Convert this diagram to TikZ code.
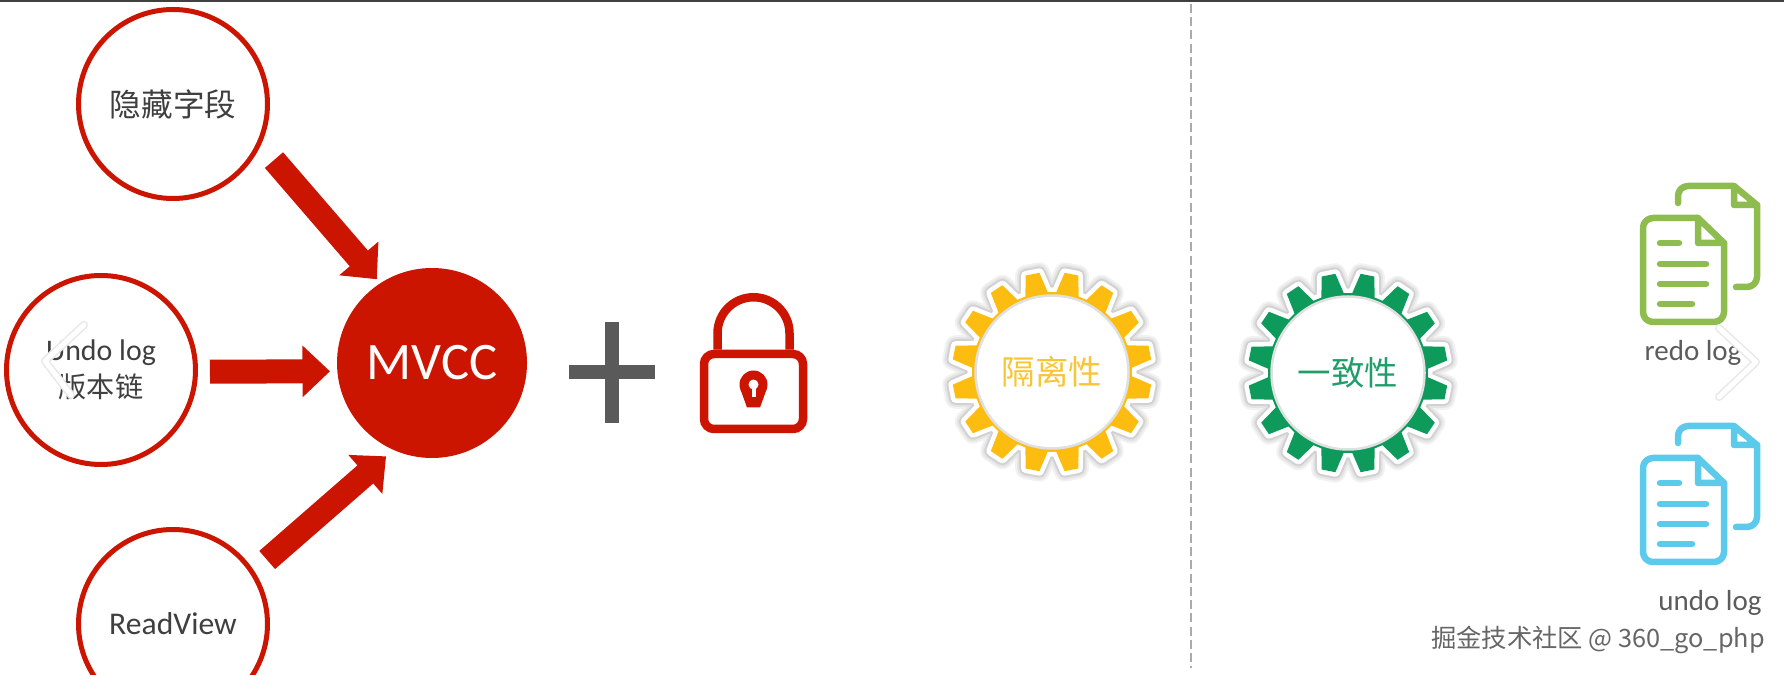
\documentclass[tikz,border=0pt]{standalone}
\usepackage{fontspec}
\setmainfont{Carlito}
\newfontfamily\cjk{Noto Sans CJK SC}
\usepackage{xcolor}
\usepackage{tikz}
\usetikzlibrary{arrows.meta, positioning, calc}
\definecolor{mvccred}{HTML}{CC1500}
\definecolor{plusgray}{HTML}{5A5A5A}
\definecolor{textgray}{HTML}{3F3F3F}
\definecolor{dashgray}{HTML}{ABABAB}
\definecolor{gearyellow}{HTML}{FDBD10}
\definecolor{geargreen}{HTML}{0E9A5B}
\definecolor{isotext}{HTML}{F8C535}
\definecolor{constext}{HTML}{1F9E69}
\definecolor{redogreen}{HTML}{8FBC4E}
\definecolor{undoblue}{HTML}{5CCBEB}
\tikzstyle{logcircle} = [circle, draw=mvccred, fill=white, line width=0.1cm, minimum size=3.78cm,
  inner sep=0pt, align=center, text=textgray, font=\fontsize{17}{21}\selectfont]
\tikzstyle{mvccnode} = [circle, fill=mvccred, minimum size=3.8cm, inner sep=0pt, text=white,
  font=\fontsize{30}{34}\selectfont]
\tikzstyle{bigarrow} = [draw=mvccred, line width=0.48cm, -{Triangle[width=1cm,length=0.55cm]}]
\tikzstyle{plusbar} = [draw=plusgray, line width=0.28cm]
\tikzstyle{lockline} = [draw=mvccred, line width=0.17cm]
\tikzstyle{gearcore} = [circle, fill=white, draw=black!12, line width=0.05cm, minimum size=3.06cm,
  inner sep=0pt, font=\cjk\fontsize{19}{22}\selectfont]
\tikzstyle{docline} = [line width=0.13cm, line cap=round, line join=round]
\tikzstyle{doclabel} = [text=textgray!85, font=\fontsize{16.5}{20}\selectfont]
\tikzstyle{chevron} = [draw=white, line width=0.1cm, line cap=round, line join=round]
\tikzstyle{chevronedge} = [draw=black!9, line width=0.16cm, line cap=round, line join=round]
\newcommand{\gearpath}{(3.05:1.6) \foreach \a in {11.25,33.75,...,348.75}
  {-- (\a-8.2:1.6) -- (\a-4:2) -- (\a+4:2) -- (\a+8.2:1.6)} -- cycle}
\newcommand{\gearwheel}[2]{
  \begin{scope}[shift={(#1)}]
    \foreach \w/\c in {0.42/black!5,0.34/black!10,0.26/black!18,0.18/white}
      \draw[draw=\c, line width=\w cm, line join=round] \gearpath;
    \fill[#2] \gearpath;
  \end{scope}}
\newcommand{\docicon}[2]{
  \begin{scope}[shift={(#1)}, draw=#2]
    \draw[docline, rounded corners=0.2cm] (0.7,0.3) -- (0.7,0.64) -- (1.82,0.64);
    \draw[docline] (1.82,0.64) -- (2.28,0.26) -- (1.82,0.26) -- cycle;
    \draw[docline, rounded corners=0.2cm] (2.28,0.26) -- (2.28,-1.38) -- (1.86,-1.38);
    \draw[docline, rounded corners=0.2cm] (1.1,0) -- (0,0) -- (0,-2.08) -- (1.62,-2.08) -- (1.62,-0.5);
    \draw[docline] (1.1,0) -- (1.1,-0.5) -- (1.62,-0.5) -- cycle;
    \draw[docline] (0.34,-0.5) -- (0.72,-0.5);
    \draw[docline] (0.34,-0.92) -- (1.26,-0.92);
    \draw[docline] (0.34,-1.32) -- (1.26,-1.32);
    \draw[docline] (0.34,-1.72) -- (0.98,-1.72);
  \end{scope}}

\begin{document}
\begin{tikzpicture}[on grid]
  \useasboundingbox (0,0) rectangle (35.68,13.48);
  \clip (0,0) rectangle (35.68,13.48);
  \fill[white] (0,0) rectangle (35.68,13.48);
  \draw[black!75, line width=0.05cm] (0,13.46) -- (35.68,13.46);

  % MVCC and its three parts
  \node (mvcc) [mvccnode] at (8.64,6.22) {MVCC};
  \node (hidden) [logcircle, above left=5.18cm and 5.18cm of mvcc] {\cjk\fontsize{18}{22}\selectfont 隐藏字段};
  \node (chain) [logcircle, below left=0.14cm and 6.62cm of mvcc] {Undo log\\{\cjk\fontsize{16}{20}\selectfont 版本链}};
  \node (view) [logcircle, below left=5.22cm and 5.18cm of mvcc, font=\fontsize{18}{22}\selectfont] {ReadView};

  \draw[bigarrow, shorten <=0.4cm, shorten >=0.1cm] (hidden.-25) -- (mvcc.123);
  \draw[bigarrow, shorten <=0.24cm, shorten >=0.14cm] (chain.-1) -- (mvcc.185);
  \draw[bigarrow, shorten <=0.34cm, shorten >=0.19cm] (view.33) -- (mvcc.246);

  % plus and lock
  \coordinate (plus) at (12.24,6.04);
  \draw[plusbar] ([xshift=-0.86cm]plus) -- ([xshift=0.86cm]plus);
  \draw[plusbar] ([yshift=-1.02cm]plus) -- ([yshift=1.0cm]plus);
  \node (lockbody) [lockline, rectangle, rounded corners=0.2cm, minimum width=1.98cm, minimum height=1.5cm,
    below right=0.57cm and 6.43cm of mvcc] {};
  \draw[lockline] ([xshift=-0.72cm]lockbody.north) -- ++(0,0.33) arc[start angle=180, end angle=0, radius=0.72cm] -- ++(0,-0.33);
  \coordinate (keyhole) at ($(lockbody.center)+(0,0.14)$);
  \fill[mvccred] (keyhole) circle (0.28cm);
  \fill[mvccred] ($(keyhole)+(-0.26,-0.1)$) -- ($(keyhole)+(-0.13,-0.46)$) -- ($(keyhole)+(0.13,-0.46)$) -- ($(keyhole)+(0.26,-0.1)$) -- cycle;
  \fill[white] (keyhole) circle (0.1cm);
  \fill[white] ($(keyhole)+(-0.04,0)$) rectangle ($(keyhole)+(0.04,-0.26)$);

  % the divider
  \coordinate (dashtop) at (23.82,13.4);
  \coordinate (dashend) at (23.82,0.12);
  \draw[dashgray, line width=0.05cm, dash pattern=on 0.18cm off 0.085cm] (dashtop) -- (dashend);

  % two gears
  \coordinate (isoc) at (21.04,6.04);
  \coordinate (consc) at (26.96,6.02);
  \gearwheel{isoc}{gearyellow}
  \gearwheel{consc}{geargreen}
  \node (iso) [gearcore, text=isotext] at (isoc) {\raisebox{0.05cm}{隔离性}};
  \node (cons) [gearcore, text=constext] at (consc) {一致性};

  % log files
  \coordinate (redoc) at (32.86,9.12);
  \coordinate (undoc) at (32.86,4.32);
  \docicon{redoc}{redogreen}
  \docicon{undoc}{undoblue}
  \node (redo) [doclabel] at ($(redoc)+(1,-2.7)$) {redo log};
  \node (undo) [doclabel] at ($(undoc)+(1.34,-2.9)$) {undo log};

  % carousel marks and watermark
  \draw[chevronedge] (1.68,6.98) -- (0.9,6.26) -- (1.42,5.58);
  \draw[chevron] (1.68,6.98) -- (0.9,6.26) -- (1.42,5.58);
  \draw[chevronedge] (34.38,6.92) -- (35.12,6.24) -- (34.38,5.54);
  \draw[chevron] (34.38,6.92) -- (35.12,6.24) -- (34.38,5.54);
  \node (mark) [anchor=east, text=black!60, font=\cjk\fontsize{14.4}{17}\selectfont] at (35.42,0.69) {掘金技术社区 @ 360\_go\_php};
\end{tikzpicture}
\end{document}
